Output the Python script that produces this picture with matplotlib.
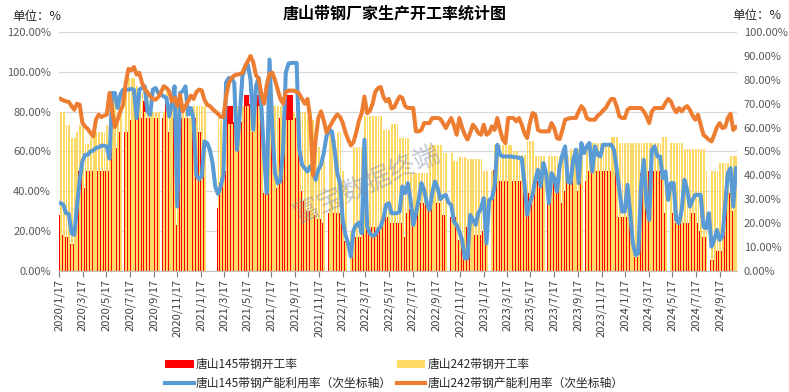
import numpy as np
import pandas as pd
import matplotlib
matplotlib.use("Agg")
import matplotlib.pyplot as plt
import matplotlib.dates as mdates
from matplotlib.patches import Patch
from matplotlib.lines import Line2D
from matplotlib.ticker import FuncFormatter, MultipleLocator

plt.rcParams['font.family'] = ['Noto Sans CJK SC', 'DejaVu Sans']

# weekly data, Fridays from 2020/1/17 (None = week not reported)
weeks = pd.date_range('2020-01-17', periods=250, freq='7D')

# 唐山145带钢开工率 (%)
rate_145 = [
    28, 18, 17, 17, 13.5, 13.5, 45, 50, 50, 41.5,
    50, 50, 50, 50, 50, 50, 50, 50, 50, 69.6,
    69.6, 61.7, 69.6, None, 69.6, 69.6, 76, 76, 85, 83,
    77, 85.2, 77, 77, 77, 77, 77, None, 77, 85,
    70, 77, 77, 23, 77, 77, 77, 77, 39, 77,
    77, 69.6, 69.6, 54, None, None, None, None, 31.4, 44,
    44, 50, 82.7, 82.7, 75, 53.5, 75, 75, 88.6, 88.6,
    84, 69.6, 88.6, 88.6, 80, 39, 39, 77, 77, 77,
    41.5, 77, 77, 88.6, 88.6, 88.6, 80, 77, 77, 40,
    35, 30, 30, 28, 28, 26, 26, 24, None, 29,
    29, 29, 29, 29, 28, 15, None, 15, 17, 17,
    17, 17, 22, 22, 22, 22, 22, 22, 22, 27,
    27, 27, 24, 24, 24, 24, 24, 17, 29, 31,
    24, 28, 34, 34, 34, 34, 34, 34, 34, 34,
    34, 28, 28, None, 27, 27, 27, 15.5, 15.5, 15.5,
    22, 22, 22, 18, 18, 18, 20, 22, None, 28,
    50.7, 45, 45, 45, 45, 45, 45, 45, 45, 45,
    45, 45, 35, 39, 39, 45, 45, 45, 45, None,
    45, 45, 45, 40, 40, 34, 40, 45, 45, 45,
    40, 40, 45, None, 45, 50, 50, 50, 50, 50,
    50, 50, 50, 50, 50, 50, 27, 27, 27, 27,
    27, 7, 7, 7, 49, 50, 50, 50, 50, 50,
    50, 50, 50, 29, None, 29, 29, 24, 24, 24,
    24, 24, 24, 29, 29, 24, 20, 17, 17, None,
    5.5, 5.5, 10, 10, 10, 39, 39, 39, 30, 22,
]

# 唐山242带钢开工率 (%)
rate_242 = [
    80, 80, 73.5, 73.5, 67, 67, 70, 73.5, 73.5, 63.5,
    63.5, 67, 70, 70, 70, 70, 70, 73.5, 73.5, 90,
    90, 80, 80, None, 90, 97, 97, 97, 93, 90,
    90, 80, 86, 80, 80, 80, 80, None, 80, 90,
    80, 83, 90, 83, 80, 80, 80, 77, 77, 83,
    83, 83, 83, 83, None, None, None, None, 77, 76,
    76, 74, 74, 74, 83, 83, 83, 83, 83, 83,
    83, 83, 83, 83, 76, 39, 39, 83, 83, 83,
    83, 83, 83, 76, 76, 76, 80, 80, 80, 80,
    80, 78, 76, 76, 64, 62, 58, 55, None, 70,
    70, 66, 70, 70, 50, 42, None, 20, 62, 62,
    62, 62, 78, 78, 78, 78, 78, 78, 78, 71,
    71, 71, 74, 74, 74, 67, 67, 67, 67, 49,
    49, 49, 49, 49, 49, 49, 63, 63, 63, 63,
    63, 59, 59, None, 59, 55, 55, 57, 57, 57,
    56, 56, 56, 56, 56, 56, 50, 50, None, 50,
    63, 63, 63, 63, 63, 63, 63, 60, 60, 58,
    58, 58, 65, 65, 65, 57.5, 57.5, 57.5, 57.5, None,
    57.5, 57.5, 57.5, 57.5, 57.5, 57.5, 57.5, 57.5, 61, 61,
    61, 61, 61, None, 64, 64, 64, 64, 64, 64,
    64, 64, 64, 67.5, 67.5, 67.5, 64, 64, 64, 64,
    64, 64, 64, 64, 64, 64, 64, 64, 64, 64,
    64, 64, 67.5, 67.5, None, 64, 64, 64, 64, 64,
    61, 61, 61, 61, 61, 61, 61, 61, 50, None,
    50, 50, 50, 54, 54, 54, 54, 57.5, 57.5, 57.5,
]

# 唐山145带钢产能利用率 (%, secondary axis)
util_145 = [
    28.3, 27.6, 24.1, 23.8, 15.7, 15, 26.9, 38.1, 45.8, 48.6,
    48.6, 50, 50.4, 51.4, 51.8, 52.4, 52.4, 52, 47, 74.5,
    74.5, 68.2, 73.8, 75.9, 75.9, 75.9, 76.2, 75.9, 64, 75.9,
    76.6, 77.3, 66.8, 65.4, 75.9, 76.6, 74.5, 73.8, 73.1, 72.4,
    64.7, 70.3, 77.3, 26.9, 74.5, 75.2, 77.3, 65.4, 68.2, 63.3,
    40.2, 38.4, 39.5, 54.2, 53.5, 50.7, 45.1, 35.3, 32.2, 35.3,
    40.2, 79, 80.8, 80.8, 78.7, 50.7, 64.7, 81.5, 85, 86.4,
    80.1, 59.1, 77.3, 80.8, 68.9, 47.9, 32.5, 88.5, 60.5, 40.9,
    36.7, 37.4, 50.7, 82.9, 86.8, 87.1, 87.1, 87.1, 50.7, 44.4,
    43, 41.6, 43.7, 41.6, 38.1, 42.3, 44.4, 49.3, 56.3, 59.1,
    58.4, 50.7, 40.9, 36.7, 21.3, 15, 11.5, 5.9, 17.1, 19.2,
    20.2, 15.7, 54.9, 18.5, 15.7, 14.6, 15, 17.1, 18.5, 22,
    27.6, 28.3, 24.1, 24.1, 24.1, 24.8, 35.3, 32.5, 36.7, 29.7,
    19.2, 24.1, 29.7, 36.7, 33.9, 28.3, 25.5, 32.5, 37.4, 34.6,
    30, 31.1, 31.8, 28.6, 27.6, 20.6, 19.2, 16.4, 12.9, 5.2,
    5.2, 23.4, 21.3, 19.2, 24.1, 26.2, 30.4, 11.5, 29.7, 30.4,
    35.3, 52.8, 48.6, 47.9, 47.9, 47.9, 47.9, 47.6, 47.6, 47.2,
    47.2, 36.7, 23.4, 28.3, 31.8, 38.1, 42.3, 35.3, 45.1, 40.9,
    28.3, 40.9, 38.8, 33.2, 43.7, 48.6, 52.1, 37.4, 36.7, 46.5,
    50.7, 36.7, 53.5, 49.3, 52.1, 53.5, 41.6, 52.1, 48.6, 47.9,
    52.8, 52.8, 52.8, 52.8, 50.7, 43, 33.9, 24.8, 24.8, 36,
    24.1, 11.5, 6.6, 7.3, 35.3, 46.5, 28.3, 21.3, 50.7, 52.1,
    47.9, 47.9, 38.8, 41.6, 29.7, 36.7, 36.7, 21.3, 19.9, 25.5,
    38.1, 33.9, 26.9, 29.7, 31.8, 31.8, 31.8, 18.5, 17.8, 24.1,
    10.1, 12.9, 17.1, 12.9, 14.3, 26.9, 40.9, 43, 26.9, 43,
]

# 唐山242带钢产能利用率 (%, secondary axis)
util_242 = [
    72, 71.4, 71, 70.7, 69, 67.5, 70, 69.6, 62, 60.5,
    59.4, 57.7, 56.3, 63.3, 65.4, 64.4, 65, 65.4, 74.5, 66.8,
    60.2, 63.3, 66.8, 69.6, 78.7, 84.6, 84, 85.4, 82.2, 82.9,
    78.7, 76.2, 74.8, 73.1, 72, 71.7, 72.8, 74.8, 77.3, 76.6,
    75.2, 71, 72.4, 69, 73.8, 66.8, 69, 71, 73.4, 72,
    74.8, 75.9, 75.6, 71.7, 69.6, 69, 67.8, 66.8, 65.8, 64.4,
    64.4, 73, 78.7, 80.8, 81.8, 82.2, 82.4, 82.9, 85.7, 87.8,
    90, 87.4, 82, 80.5, 74, 70, 78, 82.5, 83, 80,
    76, 72, 70, 75, 75.5, 75.5, 75.5, 75, 74, 72,
    70, 72, 64, 40, 55, 64, 66.8, 63, 58, 60,
    62, 64, 65.5, 64.5, 62, 58, 55, 52.5, 54, 58,
    63, 66, 73, 66, 67, 70, 75, 76.5, 77, 73,
    71, 72, 68, 68.5, 71, 73, 72.4, 69, 68.2, 68.2,
    68.2, 58.4, 58.4, 59, 61.9, 61.9, 61.9, 64, 64, 64,
    63.6, 61.9, 59.8, 62, 64, 61, 57, 64, 60, 57,
    55, 57.7, 61.2, 59.8, 57.7, 57, 61.2, 57, 57.7, 60.5,
    59, 64, 59, 55, 53.5, 64, 64, 64, 62.6, 64,
    61.2, 57.7, 55.6, 61.9, 66.1, 65.4, 59, 58.4, 58.4, 58.4,
    58.4, 61.9, 59.8, 55.6, 55.2, 59, 63.3, 63.7, 64, 64,
    64, 66.8, 69, 67.5, 64, 63.3, 63.3, 63.3, 65, 65.8,
    67.2, 68.2, 70.3, 72, 72, 69, 64.7, 64, 64, 67.5,
    68.2, 68.2, 68.2, 68.2, 68.2, 66.8, 64.7, 61.9, 66.8, 68.2,
    68.2, 68.2, 68.2, 70.3, 72, 71, 68.2, 66.4, 68.2, 66.8,
    68.2, 69, 67.5, 65, 63.3, 65.4, 61.2, 57, 56, 54.9,
    54.2, 57, 60.2, 61.9, 59.8, 60.2, 64, 65.8, 59, 60.2,
]

RED = '#FF0000'
YELLOW = '#FFD966'
BLUE = '#5B9BD5'
ORANGE = '#ED7D31'
GREY_TXT = '#595959'

r145 = np.nan_to_num(np.array(rate_145, dtype=float))
r242 = np.nan_to_num(np.array(rate_242, dtype=float))
u145 = np.array(util_145, dtype=float)
u242 = np.array(util_242, dtype=float)
xd = mdates.date2num(weeks)

fig = plt.figure(figsize=(7.89, 3.92), dpi=100)
ax = fig.add_axes([0.0752, 0.3094, 0.8588, 0.6086])
ax2 = ax.twinx()

# red column sits behind, yellow column overlaps it leaving a thin red edge
ax.bar(xd, r145, width=7, align='edge', color=RED, linewidth=0)
ax.bar(xd + 2.3, r242, width=4.7, align='edge', color=YELLOW, linewidth=0)
ax2.plot(xd + 3.5, u145, color=BLUE, lw=2.9, solid_joinstyle='round')
ax2.plot(xd + 3.5, u242, color=ORANGE, lw=2.9, solid_joinstyle='round')

ax.set_xlim(xd[0], xd[0] + 1749)
ax.set_ylim(0, 120)
ax2.set_ylim(0, 100)
ax.yaxis.set_major_locator(MultipleLocator(20))
ax2.yaxis.set_major_locator(MultipleLocator(10))
pct = FuncFormatter(lambda v, p: f'{v:.2f}%')
ax.yaxis.set_major_formatter(pct)
ax2.yaxis.set_major_formatter(pct)

ax.set_axisbelow(True)
ax.grid(axis='y', color='#D9D9D9', lw=0.9)
ax.grid(axis='x', visible=False)

tick_dates = pd.date_range('2020-01-17', '2024-09-17', freq=pd.DateOffset(months=2))
ax.set_xticks(mdates.date2num(tick_dates))
ax.set_xticklabels([f'{d.year}/{d.month}/{d.day}' for d in tick_dates],
                   rotation=90, fontsize=8, color='#404040')
ax.tick_params(axis='x', length=4, color='#808080', pad=2)
ax.tick_params(axis='y', length=0, labelsize=8, labelcolor=GREY_TXT, pad=6)
ax2.tick_params(axis='y', length=0, labelsize=8, labelcolor=GREY_TXT, pad=5)

for a in (ax, ax2):
    for s in a.spines.values():
        s.set_visible(False)
ax.spines['bottom'].set_visible(True)
ax.spines['bottom'].set_color('#BFBFBF')

fig.text(0.5, 0.965, '唐山带钢厂家生产开工率统计图', ha='center', va='center',
         fontsize=11.5, fontweight='bold', color='#000000')
fig.text(0.015, 0.958, '单位：%', ha='left', va='center', fontsize=9, color='#262626')
fig.text(0.99, 0.96, '单位：%', ha='right', va='center', fontsize=9, color='#262626')

# watermark
fig.text(0.465, 0.53, '富宝数据终端', ha='center', va='center', rotation=24,
         fontsize=19, color='#7A8AA8', alpha=0.45)

handles = [
    Patch(facecolor=RED, edgecolor='none'),
    Line2D([], [], color=BLUE, lw=3),
    Patch(facecolor=YELLOW, edgecolor='none'),
    Line2D([], [], color=ORANGE, lw=3),
]
labels = ['唐山145带钢开工率', '唐山145带钢产能利用率（次坐标轴）',
          '唐山242带钢开工率', '唐山242带钢产能利用率（次坐标轴）']
fig.legend(handles, labels, ncol=2, loc='lower left', bbox_to_anchor=(0.196, -0.022),
           frameon=False, fontsize=8.5, handlelength=2.4, handleheight=0.6,
           handletextpad=0.2, columnspacing=0.4, labelspacing=0.5,
           labelcolor='#262626')

fig.savefig('out.png', dpi=100)
